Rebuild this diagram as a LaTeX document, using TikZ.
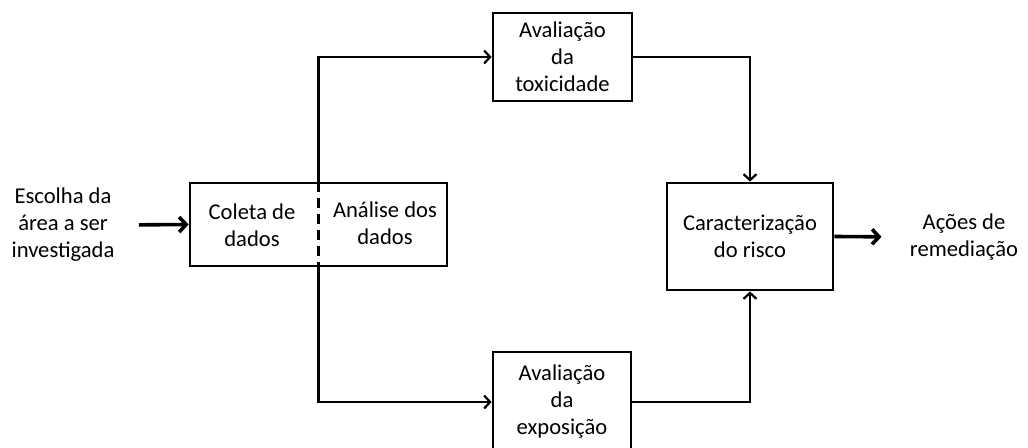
\documentclass[tikz,border=0pt]{standalone}
\usepackage{fontspec}
\setmainfont{Carlito}
\usepackage{tikz}
\usetikzlibrary{arrows.meta, positioning, calc}
\tikzset{
  stagebox/.style={
    draw, line width=1.4pt, align=center, fill=white,
    font=\fontsize{11.3}{13.5}\selectfont, inner sep=0pt
  },
  stagetext/.style={
    align=center, font=\fontsize{11.3}{13.5}\selectfont, inner sep=2pt
  },
  flowarrow/.style={
    -{Straight Barb[length=3pt, width=6.5pt]}, line width=1.1pt
  },
  mainarrow/.style={
    -{Straight Barb[length=3.5pt, width=7.5pt]}, line width=1.8pt
  },
}

\begin{document}
\begin{tikzpicture}[x=0.5pt, y=-0.5pt]
  \useasboundingbox (0,0) rectangle (1028,448);

  % Input and data collection
  \node[stagetext] (escolha) at (63,225) {Escolha da\\área a ser\\investigada};
  \node[stagebox, minimum width=128.5pt, minimum height=41.5pt] (coleta)
    at (318.5,224.5) {};
  \node[stagetext] (colText) at (252,225) {Coleta de\\dados};
  \node[stagetext] (anaText) at (385,223) {Análise dos\\dados};
  \draw[line width=1.2pt, dash pattern=on 5pt off 3pt]
    (coleta.north) -- (coleta.south);

  % Assessments
  \node[stagebox, minimum width=69.5pt, minimum height=44pt] (toxic)
    at (562.5,57) {Avaliação\\da\\toxicidade};
  \node[stagebox, minimum width=69pt, minimum height=50pt] (expo)
    at (562,402) {Avaliação\\da\\exposição};

  % Risk characterization
  \node[stagebox, minimum width=83pt, minimum height=53.5pt] (risco)
    at (750,236.5) {Caracterização\\do risco};
  \node[stagetext] (acoes) at (964,237) {Ações de\\remediação};

  % Connectors
  \draw[mainarrow, shorten <=10pt] (escolha.east) -- (coleta.west);
  \draw[flowarrow] (coleta.north) |- (toxic.west);
  \draw[flowarrow] (coleta.south) |- (expo.west);
  \draw[flowarrow] (toxic.east) -| (risco.north);
  \draw[flowarrow] (expo.east) -| (risco.south);
  \draw[mainarrow, shorten >=12pt] (risco.east) -- (acoes.west);
\end{tikzpicture}
\end{document}
